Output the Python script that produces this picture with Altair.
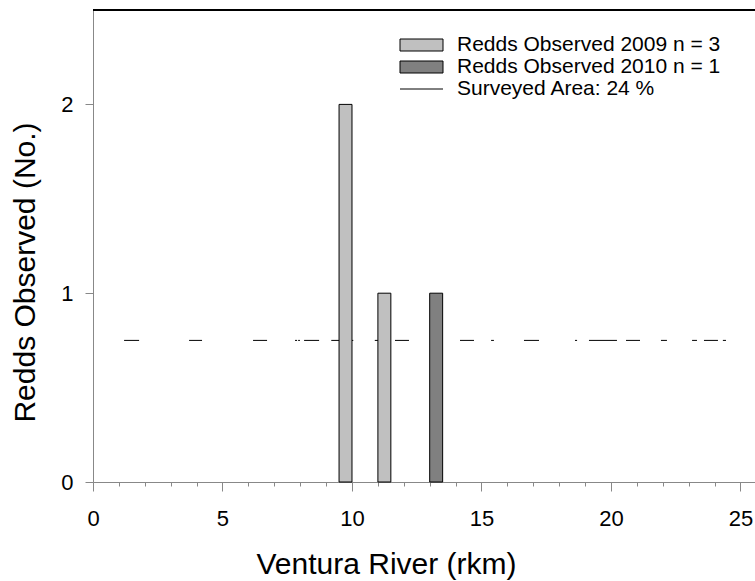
import altair as alt
import pandas as pd

# Redds counted per 0.5 rkm reach
start_2009 = [9.5, 11.0]
end_2009 = [10.0, 11.5]
redds_2009 = [2, 1]
start_2010 = [13.0]
end_2010 = [13.5]
redds_2010 = [1]

# Reaches that were surveyed (rkm), drawn as a broken line
survey_start = [1.20, 3.71, 6.18, 7.80, 7.92, 8.15, 9.20, 10.88, 11.66, 14.17, 15.37,
                16.64, 18.61, 19.15, 20.58, 21.93, 23.13, 23.59, 24.32]
survey_end = [1.78, 4.21, 6.72, 7.88, 7.99, 8.73, 10.05, 11.10, 12.20, 14.71, 15.48,
              17.22, 18.69, 20.23, 21.12, 22.16, 23.32, 24.13, 24.44]
survey_level = 0.75

legend_labels = ["Redds Observed 2009 n = 3", "Redds Observed 2010 n = 1",
                 "Surveyed Area: 24 %"]
bar_fills = ["#c0c0c0", "#808080"]

x_ticks = list(range(0, 26))
y_ticks = [0, 1, 2]

W, H = 662, 472
FONT = "Liberation Sans"

bars = pd.DataFrame({
    "start": start_2009 + start_2010,
    "end": end_2009 + end_2010,
    "redds": redds_2009 + redds_2010,
    "series": [legend_labels[0]] * len(redds_2009) + [legend_labels[1]] * len(redds_2010),
})
survey = pd.DataFrame({"start": survey_start, "end": survey_end,
                       "level": [survey_level] * len(survey_start)})

x_scale = alt.Scale(domain=[0, 25.56], nice=False, zero=False)
y_scale = alt.Scale(domain=[0, 2.5], nice=False)

x_axis = alt.Axis(
    values=x_ticks, tickCount=40, format="d",
    labelExpr="datum.value % 5 === 0 ? datum.label : ''",
    tickSize={"condition": {"test": "datum.value % 5 === 0", "value": 9}, "value": 4},
    labelFontSize=22, labelPadding=17, labelOverlap=False, labelFlush=False,
    title="Ventura River (rkm)", titleFontSize=30, titleFontWeight="normal",
    titleX=293, titleY=82, titleBaseline="middle", titleAlign="center", grid=False,
)
y_axis = alt.Axis(
    values=y_ticks, tickCount=10, format="d", tickSize=8, labelFontSize=22, labelPadding=12,
    title="Redds Observed (No.)", titleFontSize=30, titleFontWeight="normal",
    titleX=-68, titleY=262, titleBaseline="middle", titleAlign="center", grid=False,
)

line_layer = alt.Chart(survey).mark_rule(color="black", strokeWidth=1).encode(
    x=alt.X("start:Q", scale=x_scale, axis=x_axis),
    x2="end:Q",
    y=alt.Y("level:Q", scale=y_scale, axis=y_axis),
)

bar_layer = alt.Chart(bars).mark_rect(stroke="black", strokeWidth=1).encode(
    x=alt.X("start:Q", scale=x_scale),
    x2="end:Q",
    y=alt.Y("redds:Q", scale=y_scale),
    y2=alt.datum(0),
    fill=alt.Fill("series:N", scale=alt.Scale(domain=legend_labels[:2], range=bar_fills),
                  legend=None),
)

# top frame line
frame_top = alt.Chart(survey).mark_rule(color="black", strokeWidth=1.5).encode(
    x=alt.value(0), x2=alt.value(W), y=alt.value(0)
)

# legend drawn in the upper right of the plot
leg = pd.DataFrame({"label": legend_labels, "row": [0, 1, 2]})
LX0, LX1, LTX = 307, 350, 364
ROWS = [35, 57, 79]
leg_layers = []
for i, lab in enumerate(legend_labels):
    one = leg[leg["row"] == i]
    if i < 2:
        sw = alt.Chart(one).mark_rect(stroke="black", strokeWidth=1, fill=bar_fills[i]).encode(
            x=alt.value(LX0), x2=alt.value(LX1), y=alt.value(ROWS[i] - 6), y2=alt.value(ROWS[i] + 6)
        )
    else:
        sw = alt.Chart(one).mark_rule(color="black", strokeWidth=1).encode(
            x=alt.value(LX0), x2=alt.value(LX1), y=alt.value(ROWS[i])
        )
    tx = alt.Chart(one).mark_text(align="left", baseline="middle", fontSize=21, font=FONT,
                                  color="black").encode(
        x=alt.value(LTX), y=alt.value(ROWS[i]), text="label:N"
    )
    leg_layers += [sw, tx]

chart = alt.layer(line_layer, bar_layer, frame_top, *leg_layers).properties(
    width=W, height=H,
    padding={"left": 93, "top": 10, "right": 0, "bottom": 99},
    autosize=alt.AutoSizeParams(type="none"),
).configure_view(stroke=None).configure_axis(
    labelFont=FONT, titleFont=FONT, labelColor="black", titleColor="black",
    domainColor="black", tickColor="black", domainWidth=1.5, tickWidth=1,
).configure(background="white")

chart.save("out.html", embed_options={"renderer": "svg", "actions": False})
